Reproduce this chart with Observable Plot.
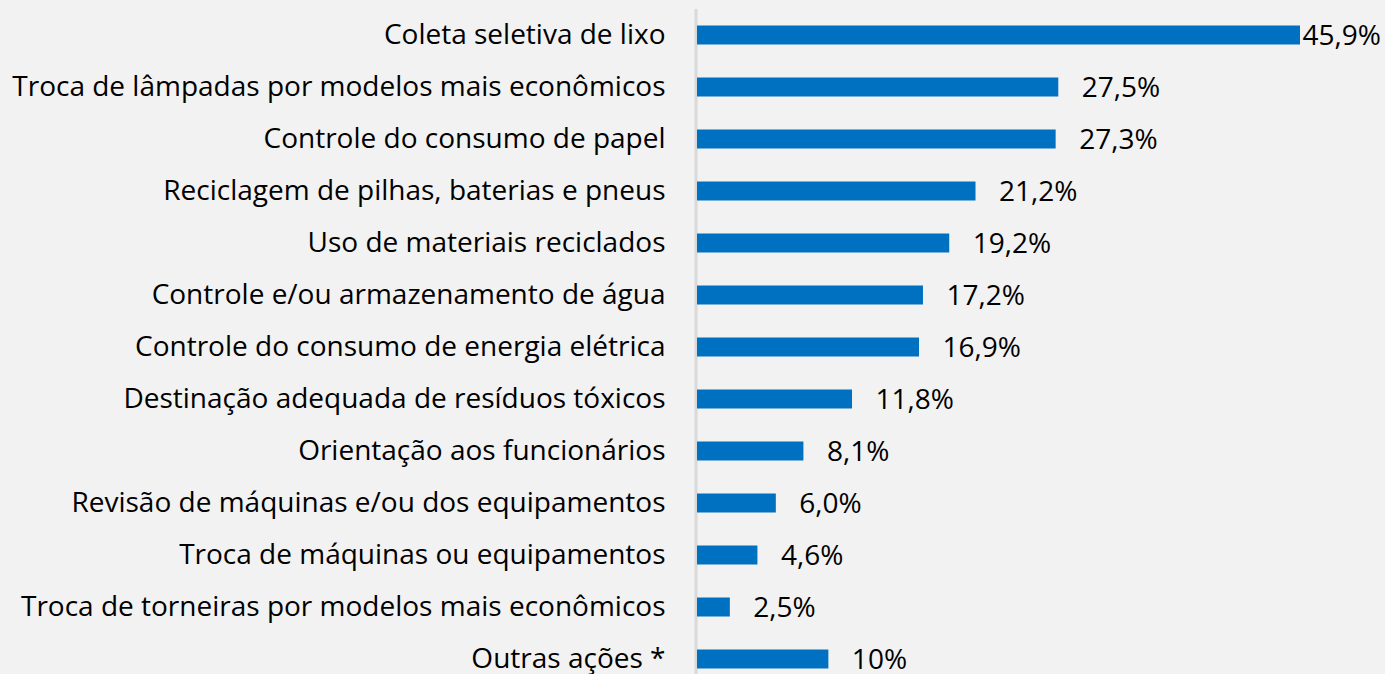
<!DOCTYPE html>
<html>
<head>
<meta charset="utf-8">
<script src="https://cdn.jsdelivr.net/npm/d3@7"></script>
<script src="https://cdn.jsdelivr.net/npm/@observablehq/plot@0.6"></script>
<style>
  html, body { margin: 0; padding: 0; background: #f2f2f2; overflow: hidden; }
  #chart svg { display: block; }
</style>
</head>
<body>
<div id="chart"></div>
<script>
const categories = [
  "Coleta seletiva de lixo",
  "Troca de lâmpadas por modelos mais econômicos",
  "Controle do consumo de papel",
  "Reciclagem de pilhas, baterias e pneus",
  "Uso de materiais reciclados",
  "Controle e/ou armazenamento de água",
  "Controle do consumo de energia elétrica",
  "Destinação adequada de resíduos tóxicos",
  "Orientação aos funcionários",
  "Revisão de máquinas e/ou dos equipamentos",
  "Troca de máquinas ou equipamentos",
  "Troca de torneiras por modelos mais econômicos",
  "Outras ações *"
];
const values = [45.9, 27.5, 27.3, 21.2, 19.2, 17.2, 16.9, 11.8, 8.1, 6.0, 4.6, 2.5, 10];
const valueLabels = ["45,9%", "27,5%", "27,3%", "21,2%", "19,2%", "17,2%", "16,9%", "11,8%", "8,1%", "6,0%", "4,6%", "2,5%", "10%"];

const data = categories.map((c, i) => ({category: c, value: values[i], label: valueLabels[i]}));
const maxVal = d3.max(values);

const chart = Plot.plot({
  width: 1385,
  height: 674,
  marginTop: 9,
  marginBottom: 0,
  marginLeft: 697,
  marginRight: 0,
  style: {background: "#f2f2f2", fontFamily: "'Open Sans', sans-serif", color: "#000"},
  x: {domain: [0, maxVal], range: [697, 1300], axis: null},
  y: {domain: categories, range: [8.5, 684.5], padding: 0, label: null},
  marks: [
    Plot.ruleX([0], {stroke: "#d9d9d9", strokeWidth: 3, dx: -1.5}),
    Plot.barX(data, {x: "value", y: "category", fill: "#0070c0", insetTop: 16.5, insetBottom: 16.5}),
    Plot.text(data, {filter: d => d.value < maxVal, x: "value", y: "category", text: "label", textAnchor: "start", dx: 23, dy: 1, fontSize: 28, fill: "#000"}),
    Plot.text(data, {filter: d => d.value === maxVal, x: "value", y: "category", text: "label", textAnchor: "start", dx: 2, dy: 1, fontSize: 28, fill: "#000"}),
    Plot.axisY({tickSize: 0, tickPadding: 32, fontSize: 28, label: null, fill: "#000"})
  ]
});
document.getElementById("chart").appendChild(chart);
</script>
</body>
</html>
